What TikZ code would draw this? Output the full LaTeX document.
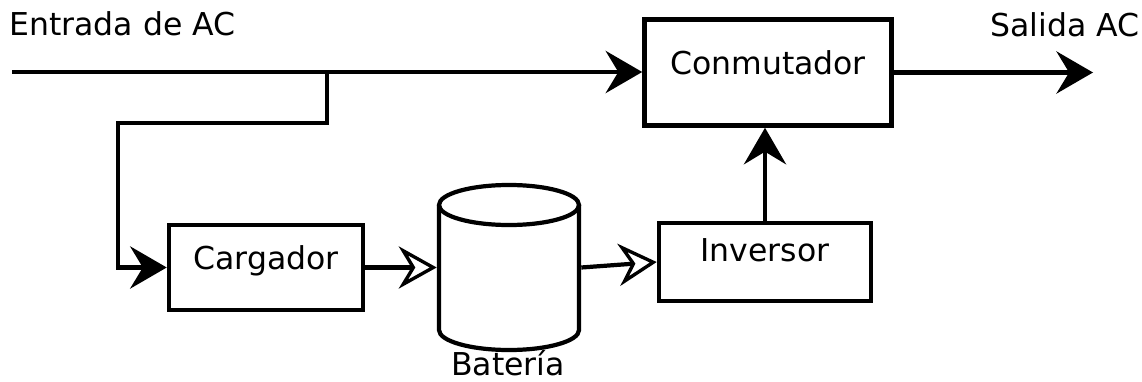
\documentclass[tikz,border=0pt]{standalone}
\usepackage{fontspec}
\setmainfont{DejaVu Sans}
\usetikzlibrary{arrows.meta}
\tikzset{
  bloque/.style = {draw, line width=3.2pt, inner sep=0pt, text depth=14pt},
  linea/.style = {line width=3pt},
  flecha/.style = {linea, -{Stealth[length=26pt, width=30pt, inset=9pt]}},
  flechaabierta/.style = {linea, -{Stealth[open, length=27pt, width=30pt, inset=9pt, line width=2.4pt]}}
}

\begin{document}
\begin{tikzpicture}[x=0.025cm, y=-0.025cm, font=\fontsize{22.4}{27}\selectfont]
\useasboundingbox (0,0) rectangle (1142,381);

\node[bloque, minimum width=6.175cm, minimum height=2.65cm] (conm) at (768,72.5) {Conmutador};
\node[bloque, minimum width=5.3cm, minimum height=1.95cm, text depth=17pt] (inv) at (765,262) {Inversor};
\node[bloque, minimum width=4.85cm, minimum height=2.125cm] (carg) at (266,267.5) {Cargador};

\draw[linea] (439,205) -- (439,330)
    arc[start angle=180, end angle=360, x radius=1.75cm, y radius=0.5cm] -- (579,205);
\draw[linea] (509,205) ellipse[x radius=1.75cm, y radius=0.5cm];
\node[minimum width=3.6cm, minimum height=4.225cm, inner sep=0pt] (bat) at (509,267.5) {};
\node[anchor=base, inner sep=0pt] (batlbl) at (508,375) {Batería};

\node[anchor=base west, inner sep=0pt] (entlbl) at (9,36) {Entrada de AC};
\node[anchor=base west, inner sep=0pt] (sallbl) at (990,37) {Salida AC};

\coordinate (entrada) at (12,72);
\coordinate (deriv) at (327,72);
\coordinate (codo) at (118,123);
\coordinate (salida) at (1093,72);

\draw[flecha] (entrada) -- (entrada -| conm.west);
\draw[flecha] (deriv) |- (codo) |- (carg.west);
\draw[flecha] (conm.east) -- (conm.east -| salida);
\draw[flechaabierta] (carg.east) -- (bat.west);
\draw[flechaabierta] (bat.east) -- (inv.west);
\draw[flecha] (inv.north) -- (inv.north |- conm.south);

\end{tikzpicture}
\end{document}
